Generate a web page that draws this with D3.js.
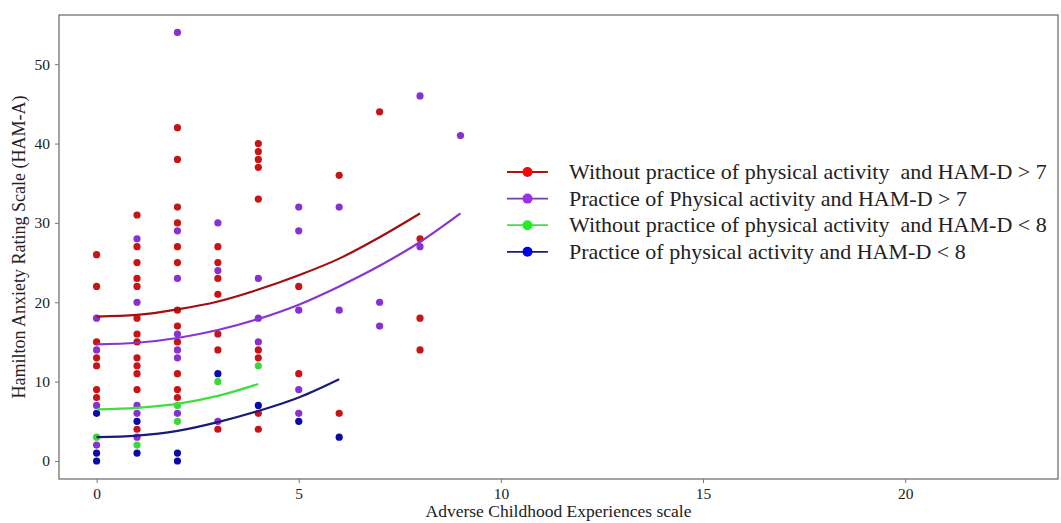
<!DOCTYPE html>
<html>
<head>
<meta charset="utf-8">
<script src="https://cdn.jsdelivr.net/npm/d3@7"></script>
<style>
  html, body { margin: 0; padding: 0; background: #fff; }
  svg { display: block; }
  text { font-family: "Liberation Serif", "Times New Roman", serif; fill: #222; }
</style>
</head>
<body>
<svg id="chart" width="1061" height="523"></svg>
<script>
// ---------- DATA ----------
const seriesNames = [
  "Without practice of physical activity  and HAM-D > 7",
  "Practice of Physical activity and HAM-D > 7",
  "Without practice of physical activity  and HAM-D < 8",
  "Practice of physical activity and HAM-D < 8"
];
// points: [ACE score, HAM-A]
const redPoints = [
  [0,26],[0,22],[0,15],[0,13],[0,12],[0,9],[0,8],
  [1,31],[1,27],[1,25],[1,23],[1,22],[1,18],[1,16],[1,15],[1,13],[1,12],[1,11],[1,9],[1,4],
  [2,42],[2,38],[2,32],[2,30],[2,27],[2,25],[2,19],[2,17],[2,15],[2,11],[2,9],[2,8],
  [3,27],[3,25],[3,23],[3,21],[3,16],[3,14],[3,4],
  [4,40],[4,39],[4,38],[4,37],[4,33],[4,14],[4,13],[4,6],[4,4],
  [5,22],[5,11],
  [6,36],[6,6],
  [7,44],
  [8,28],[8,18],[8,14]
];
const purplePoints = [
  [0,18],[0,14],[0,7],[0,2],
  [1,28],[1,20],[1,7],[1,6],[1,3],
  [2,54],[2,29],[2,23],[2,16],[2,14],[2,13],[2,6],
  [3,30],[3,24],[3,5],
  [4,23],[4,18],[4,15],
  [5,32],[5,29],[5,19],[5,9],[5,6],
  [6,32],[6,19],
  [7,20],[7,17],
  [8,46],[8,27],
  [9,41]
];
const greenPoints = [
  [0,3],[1,2],[2,7],[2,5],[3,10],[4,12]
];
const bluePoints = [
  [0,6],[0,1],[0,0],[1,5],[1,1],[2,1],[2,0],[3,11],[4,7],[5,5],[6,3]
];
// fitted curves, read at each integer ACE value
const redCurve    = [[0,18.2],[1,18.4],[2,19.1],[3,20.1],[4,21.6],[5,23.4],[6,25.5],[7,28.2],[8,31.2]];
const purpleCurve = [[0,14.7],[1,14.9],[2,15.5],[3,16.5],[4,17.9],[5,19.7],[6,22.0],[7,24.6],[8,27.6],[9,31.2]];
const greenCurve  = [[0,6.5],[1,6.7],[2,7.2],[3,8.2],[4,9.7]];
const blueCurve   = [[0,3.0],[1,3.2],[2,3.8],[3,4.9],[4,6.3],[5,8.0],[6,10.3]];

const xTicks = [0,5,10,15,20];
const yTicks = [0,10,20,30,40,50];
const xTitle = "Adverse Childhood Experiences scale";
const yTitle = "Hamilton Anxiety Rating Scale (HAM-A)";

// ---------- STYLE ----------
const pointColors  = ["#c81414", "#8a2fd0", "#3ad83a", "#0a0aa8"];
const lineColors   = ["#a01010", "#8a35cc", "#3ce03c", "#1a1a7a"];
const legendDot    = ["#f00a0a", "#9a30ee", "#22ee22", "#0000f0"];
const legendLine   = ["#b01515", "#7a3aaa", "#44dd44", "#20206a"];

const svg = d3.select("#chart");
const L = 59, R = 1058, T = 15, B = 479;

const x = d3.scaleLinear().domain([-0.93, 23.78]).range([L, R]);
const y = d3.scaleLinear().domain([-2.27, 56.2]).range([B, T]);

// panel border
svg.append("rect").attr("x", L).attr("y", T).attr("width", R - L).attr("height", B - T)
  .attr("fill", "none").attr("stroke", "#666").attr("stroke-width", 1.2);

// axes
const xAxis = svg.append("g").attr("transform", `translate(0,${B})`)
  .call(d3.axisBottom(x).tickValues(xTicks).tickSize(4).tickPadding(5));
const yAxis = svg.append("g").attr("transform", `translate(${L},0)`)
  .call(d3.axisLeft(y).tickValues(yTicks).tickSize(4).tickPadding(5));
[xAxis, yAxis].forEach(g => {
  g.select(".domain").remove();
  g.selectAll(".tick line").attr("stroke", "#777");
  g.selectAll(".tick text").attr("font-family", "Liberation Serif, serif")
    .attr("font-size", 15.5).attr("fill", "#333");
});

// axis titles
svg.append("text").attr("x", (L + R) / 2).attr("y", 517).attr("text-anchor", "middle")
  .attr("font-size", 17.5).text(xTitle);
svg.append("text").attr("transform", `translate(25,${(T + B) / 2}) rotate(-90)`)
  .attr("text-anchor", "middle").attr("font-size", 18).text(yTitle);

// curves
const line = d3.line().x(d => x(d[0])).y(d => y(d[1])).curve(d3.curveMonotoneX);
const curves = [redCurve, purpleCurve, greenCurve, blueCurve];
const points = [redPoints, purplePoints, greenPoints, bluePoints];

// points
points.forEach((pts, i) => {
  svg.append("g").selectAll("circle").data(pts).join("circle")
    .attr("cx", d => x(d[0])).attr("cy", d => y(d[1])).attr("r", 3.6)
    .attr("fill", pointColors[i]);
});
curves.forEach((c, i) => {
  svg.append("path").datum(c).attr("d", line)
    .attr("fill", "none").attr("stroke", lineColors[i]).attr("stroke-width", 2.2);
});

// legend
const lg = svg.append("g");
seriesNames.forEach((name, i) => {
  const cy = 172 + i * 26.6;
  lg.append("line").attr("x1", 507).attr("x2", 548).attr("y1", cy).attr("y2", cy)
    .attr("stroke", legendLine[i]).attr("stroke-width", 1.8);
  lg.append("circle").attr("cx", 527.5).attr("cy", cy).attr("r", 5).attr("fill", legendDot[i]);
  lg.append("text").attr("x", 569).attr("y", cy).attr("dy", "0.33em")
    .attr("font-size", 22).attr("fill", "#111").style("white-space", "pre").text(name);
});
</script>
</body>
</html>
